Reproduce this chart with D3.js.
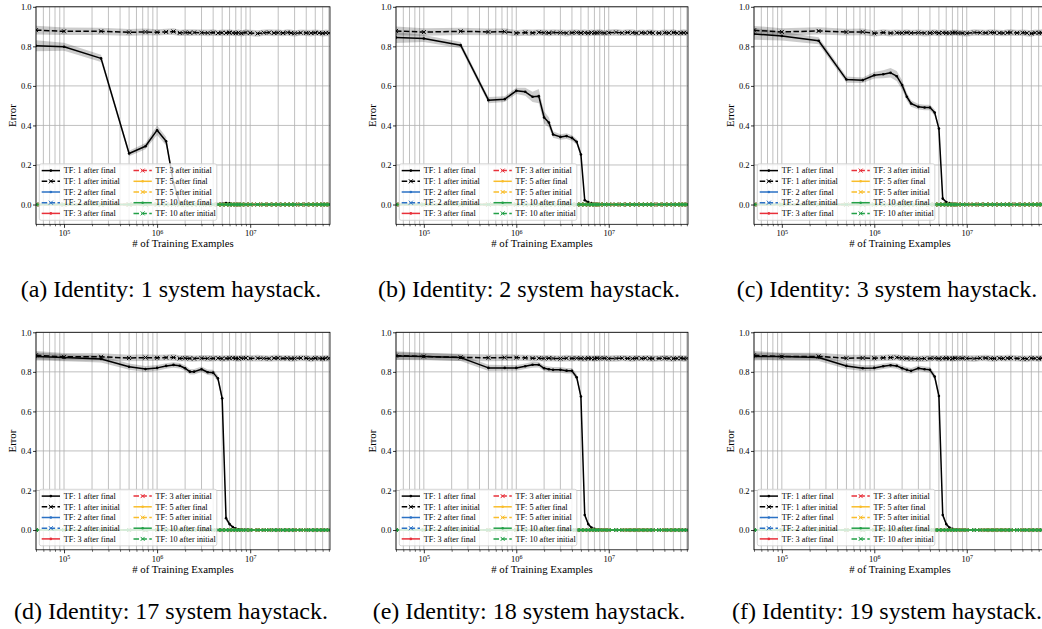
<!DOCTYPE html>
<html>
<head>
<meta charset="utf-8">
<script src="https://cdn.jsdelivr.net/npm/d3@7"></script>
<style>
  body { margin: 0; background: #fff; }
</style>
</head>
<body>
<svg id="fig" width="1042" height="629"></svg>
<script>
// ---- data -------------------------------------------------------------
const trainingExamples = [
  5e4, 1e5, 2.5e5, 5e5, 7.5e5, 1e6, 1.25e6, 1.5e6, 1.75e6, 2e6,
  2.25e6, 2.5e6, 3e6, 3.5e6, 4e6, 4.5e6, 5e6, 5.5e6, 6e6, 6.5e6,
  7e6, 7.5e6, 8e6, 9e6, 1e7, 1.2e7, 1.4e7, 1.6e7, 1.8e7, 2e7,
  2.25e7, 2.5e7, 2.75e7, 3e7, 3.5e7, 4e7, 4.5e7, 5e7, 5.5e7, 6e7,
  6.5e7, 7e7
];

const tfLevels = [1, 2, 3, 5, 10];
const tfColors = ["#000000", "#2a71c5", "#e8303a", "#f9bd2a", "#22a047"];

const yTicks = [0.0, 0.2, 0.4, 0.6, 0.8, 1.0];
const xMajorTicks = [1e5, 1e6, 1e7];

const captions = [
  "(a) Identity: 1 system haystack.",
  "(b) Identity: 2 system haystack.",
  "(c) Identity: 3 system haystack.",
  "(d) Identity: 17 system haystack.",
  "(e) Identity: 18 system haystack.",
  "(f) Identity: 19 system haystack."
];

// TF: 1 error after the final token, per haystack size
const errFinal1 = [
  0.803, 0.798, 0.739, 0.258, 0.295, 0.376, 0.320, 0.110, 0.008, 0.002,
  0.001, 0.001, 0.001, 0.001, 0.001, 0.002, 0.004, 0.008, 0.006, 0.002,
  0.001, 0.001, 0.000, 0.000, 0.000, 0.000, 0.000, 0.000, 0.000, 0.000,
  0.000, 0.000, 0.000, 0.000, 0.000, 0.000, 0.000, 0.000, 0.000, 0.000,
  0.000, 0.000
];
const errFinal2 = [
  0.845, 0.840, 0.806, 0.528, 0.533, 0.575, 0.570, 0.545, 0.548, 0.440,
  0.415, 0.354, 0.342, 0.346, 0.337, 0.317, 0.253, 0.022, 0.012, 0.007,
  0.004, 0.002, 0.001, 0.001, 0.000, 0.000, 0.000, 0.000, 0.000, 0.000,
  0.000, 0.000, 0.000, 0.000, 0.000, 0.000, 0.000, 0.000, 0.000, 0.000,
  0.000, 0.000
];
const errFinal3 = [
  0.863, 0.852, 0.828, 0.632, 0.629, 0.654, 0.659, 0.666, 0.649, 0.604,
  0.545, 0.511, 0.494, 0.491, 0.491, 0.465, 0.384, 0.030, 0.013, 0.007,
  0.004, 0.002, 0.001, 0.001, 0.000, 0.000, 0.000, 0.000, 0.000, 0.000,
  0.000, 0.000, 0.000, 0.000, 0.000, 0.000, 0.000, 0.000, 0.000, 0.000,
  0.000, 0.000
];
const errFinal17 = [
  0.878, 0.872, 0.865, 0.826, 0.814, 0.820, 0.830, 0.835, 0.831, 0.818,
  0.801, 0.801, 0.813, 0.798, 0.796, 0.767, 0.666, 0.060, 0.030, 0.015,
  0.008, 0.004, 0.002, 0.001, 0.000, 0.000, 0.000, 0.000, 0.000, 0.000,
  0.000, 0.000, 0.000, 0.000, 0.000, 0.000, 0.000, 0.000, 0.000, 0.000,
  0.000, 0.000
];
const errFinal18 = [
  0.880, 0.878, 0.872, 0.820, 0.820, 0.820, 0.828, 0.836, 0.836, 0.818,
  0.813, 0.810, 0.810, 0.806, 0.805, 0.773, 0.675, 0.076, 0.030, 0.012,
  0.006, 0.003, 0.002, 0.001, 0.000, 0.000, 0.000, 0.000, 0.000, 0.000,
  0.000, 0.000, 0.000, 0.000, 0.000, 0.000, 0.000, 0.000, 0.000, 0.000,
  0.000, 0.000
];
const errFinal19 = [
  0.878, 0.877, 0.873, 0.830, 0.818, 0.820, 0.828, 0.833, 0.830, 0.818,
  0.810, 0.805, 0.818, 0.813, 0.810, 0.776, 0.678, 0.076, 0.030, 0.012,
  0.006, 0.003, 0.002, 0.001, 0.000, 0.000, 0.000, 0.000, 0.000, 0.000,
  0.000, 0.000, 0.000, 0.000, 0.000, 0.000, 0.000, 0.000, 0.000, 0.000,
  0.000, 0.000
];

// spread (half-width of the shaded band) around the TF: 1 final curves
const spreadFinal1 = [
  0.028, 0.020, 0.018, 0.014, 0.016, 0.024, 0.022, 0.016, 0.007, 0.003,
  0.002, 0.002, 0.002, 0.002, 0.002, 0.003, 0.004, 0.006, 0.004, 0.003,
  0.002, 0.002, 0.002, 0.002, 0.002, 0.002, 0.002, 0.002, 0.002, 0.002,
  0.002, 0.002, 0.002, 0.002, 0.002, 0.002, 0.002, 0.002, 0.002, 0.002,
  0.002, 0.002
];
const spreadFinal2 = [
  0.028, 0.018, 0.016, 0.016, 0.014, 0.016, 0.020, 0.026, 0.036, 0.030,
  0.026, 0.016, 0.014, 0.014, 0.014, 0.014, 0.016, 0.007, 0.004, 0.003,
  0.002, 0.002, 0.002, 0.002, 0.002, 0.002, 0.002, 0.002, 0.002, 0.002,
  0.002, 0.002, 0.002, 0.002, 0.002, 0.002, 0.002, 0.002, 0.002, 0.002,
  0.002, 0.002
];
const spreadFinal3 = [
  0.030, 0.022, 0.018, 0.016, 0.014, 0.016, 0.020, 0.024, 0.026, 0.024,
  0.020, 0.016, 0.014, 0.014, 0.014, 0.016, 0.016, 0.007, 0.004, 0.003,
  0.002, 0.002, 0.002, 0.002, 0.002, 0.002, 0.002, 0.002, 0.002, 0.002,
  0.002, 0.002, 0.002, 0.002, 0.002, 0.002, 0.002, 0.002, 0.002, 0.002,
  0.002, 0.002
];
const spreadFinal17 = [
  0.020, 0.018, 0.018, 0.016, 0.015, 0.014, 0.014, 0.014, 0.014, 0.014,
  0.014, 0.014, 0.014, 0.014, 0.014, 0.016, 0.020, 0.014, 0.007, 0.004,
  0.003, 0.002, 0.002, 0.002, 0.002, 0.002, 0.002, 0.002, 0.002, 0.002,
  0.002, 0.002, 0.002, 0.002, 0.002, 0.002, 0.002, 0.002, 0.002, 0.002,
  0.002, 0.002
];
const spreadFinal18 = [
  0.019, 0.017, 0.017, 0.016, 0.014, 0.014, 0.014, 0.015, 0.014, 0.014,
  0.014, 0.014, 0.014, 0.014, 0.014, 0.016, 0.020, 0.014, 0.007, 0.004,
  0.003, 0.002, 0.002, 0.002, 0.002, 0.002, 0.002, 0.002, 0.002, 0.002,
  0.002, 0.002, 0.002, 0.002, 0.002, 0.002, 0.002, 0.002, 0.002, 0.002,
  0.002, 0.002
];
const spreadFinal19 = [
  0.020, 0.018, 0.018, 0.016, 0.015, 0.014, 0.014, 0.014, 0.014, 0.014,
  0.014, 0.015, 0.014, 0.014, 0.014, 0.016, 0.020, 0.014, 0.007, 0.004,
  0.003, 0.002, 0.002, 0.002, 0.002, 0.002, 0.002, 0.002, 0.002, 0.002,
  0.002, 0.002, 0.002, 0.002, 0.002, 0.002, 0.002, 0.002, 0.002, 0.002,
  0.002, 0.002
];

// TF: 1 error after the initial token
const errInitial1 = [
  0.882, 0.876, 0.876, 0.871, 0.873, 0.871, 0.873, 0.875, 0.868, 0.870,
  0.869, 0.870, 0.869, 0.868, 0.870, 0.867, 0.869, 0.868, 0.870, 0.868,
  0.867, 0.869, 0.866, 0.870, 0.868, 0.865, 0.869, 0.870, 0.868, 0.869,
  0.867, 0.870, 0.868, 0.866, 0.869, 0.868, 0.867, 0.869, 0.868, 0.866,
  0.868, 0.867
];
const errInitial2 = [
  0.878, 0.872, 0.876, 0.873, 0.874, 0.867, 0.870, 0.868, 0.871, 0.869,
  0.868, 0.870, 0.869, 0.867, 0.869, 0.870, 0.868, 0.869, 0.867, 0.870,
  0.868, 0.869, 0.870, 0.867, 0.869, 0.871, 0.868, 0.870, 0.869, 0.867,
  0.869, 0.868, 0.870, 0.868, 0.867, 0.869, 0.868, 0.870, 0.867, 0.868,
  0.869, 0.868
];
const errInitial3 = [
  0.881, 0.873, 0.878, 0.872, 0.873, 0.866, 0.870, 0.867, 0.869, 0.868,
  0.870, 0.868, 0.869, 0.867, 0.868, 0.870, 0.867, 0.869, 0.868, 0.867,
  0.869, 0.870, 0.868, 0.867, 0.866, 0.870, 0.869, 0.868, 0.870, 0.869,
  0.868, 0.867, 0.869, 0.870, 0.868, 0.869, 0.867, 0.865, 0.869, 0.868,
  0.869, 0.868
];
const errInitial17 = [
  0.884, 0.876, 0.876, 0.870, 0.872, 0.871, 0.872, 0.873, 0.868, 0.869,
  0.868, 0.867, 0.869, 0.868, 0.868, 0.869, 0.867, 0.868, 0.869, 0.870,
  0.868, 0.867, 0.869, 0.870, 0.868, 0.869, 0.868, 0.867, 0.869, 0.870,
  0.868, 0.869, 0.867, 0.868, 0.870, 0.869, 0.866, 0.869, 0.868, 0.867,
  0.869, 0.868
];
const errInitial18 = [
  0.882, 0.878, 0.873, 0.871, 0.872, 0.872, 0.871, 0.869, 0.869, 0.868,
  0.869, 0.868, 0.867, 0.869, 0.868, 0.869, 0.868, 0.867, 0.869, 0.868,
  0.867, 0.869, 0.868, 0.869, 0.867, 0.868, 0.869, 0.868, 0.867, 0.869,
  0.868, 0.869, 0.868, 0.867, 0.868, 0.869, 0.868, 0.867, 0.868, 0.869,
  0.867, 0.868
];
const errInitial19 = [
  0.884, 0.877, 0.878, 0.869, 0.870, 0.869, 0.871, 0.872, 0.873, 0.869,
  0.868, 0.867, 0.866, 0.867, 0.868, 0.869, 0.867, 0.868, 0.869, 0.868,
  0.867, 0.869, 0.868, 0.869, 0.868, 0.867, 0.869, 0.870, 0.868, 0.867,
  0.869, 0.868, 0.869, 0.870, 0.868, 0.867, 0.866, 0.869, 0.868, 0.867,
  0.869, 0.868
];
const spreadInitial = [
  0.022, 0.019, 0.018, 0.017, 0.017, 0.016, 0.016, 0.017, 0.016, 0.016,
  0.017, 0.016, 0.016, 0.017, 0.016, 0.016, 0.016, 0.017, 0.016, 0.016,
  0.016, 0.017, 0.016, 0.016, 0.016, 0.017, 0.016, 0.016, 0.017, 0.016,
  0.016, 0.016, 0.017, 0.016, 0.016, 0.016, 0.017, 0.016, 0.016, 0.016,
  0.017, 0.016
];

// TF: 2, 3, 5 and 10 stay at zero error throughout
const errOtherTf = [
  0, 0, 0, 0, 0, 0, 0, 0, 0, 0,
  0, 0, 0, 0, 0, 0, 0, 0, 0, 0,
  0, 0, 0, 0, 0, 0, 0, 0, 0, 0,
  0, 0, 0, 0, 0, 0, 0, 0, 0, 0,
  0, 0
];

const panelData = [
  { final: errFinal1,  finalSpread: spreadFinal1,  initial: errInitial1 },
  { final: errFinal2,  finalSpread: spreadFinal2,  initial: errInitial2 },
  { final: errFinal3,  finalSpread: spreadFinal3,  initial: errInitial3 },
  { final: errFinal17, finalSpread: spreadFinal17, initial: errInitial17 },
  { final: errFinal18, finalSpread: spreadFinal18, initial: errInitial18 },
  { final: errFinal19, finalSpread: spreadFinal19, initial: errInitial19 }
];

// ---- layout -----------------------------------------------------------
const FONT = "'Liberation Serif', 'Times New Roman', Times, serif";
const colLeft = [36, 396, 754];
const colWidth = [294, 292, 292];
const captionCenter = [171, 529, 887];
const rowTop = [6.8, 332.3];
const plotH = 217.5;
const captionBaseline = [296.5, 618.5];
const xDomain = [5e4, 7.2e7];
const yDomain = [-0.1, 1.0];

const svg = d3.select("#fig").attr("font-family", FONT);
svg.append("rect").attr("width", 1042).attr("height", 629).attr("fill", "#fff");

const gridColor = "#b0b0b0";

function xMarkerPath(s) {
  return `M${-s},${-s}L${s},${s}M${-s},${s}L${s},${-s}`;
}

function drawPanel(p, idx) {
  const col = idx % 3, row = Math.floor(idx / 3);
  const w = colWidth[col], h = plotH;
  const g = svg.append("g").attr("transform", `translate(${colLeft[col]},${rowTop[row]})`);

  const x = d3.scaleLog().domain(xDomain).range([0, w]);
  const y = d3.scaleLinear().domain(yDomain).range([h, 0]);

  const clipId = `plot-clip-${idx}`;
  g.append("clipPath").attr("id", clipId)
    .append("rect").attr("width", w).attr("height", h);

  // grid: every log tick (1..9 × 10^k) vertically, 0.2 steps horizontally
  const gridG = g.append("g");
  gridG.selectAll("line.vx").data(x.ticks()).join("line")
    .attr("class", "vx")
    .attr("x1", d => x(d)).attr("x2", d => x(d))
    .attr("y1", 0).attr("y2", h)
    .attr("stroke", gridColor).attr("stroke-width", 0.8);
  gridG.selectAll("line.hy").data(yTicks).join("line")
    .attr("class", "hy")
    .attr("x1", 0).attr("x2", w)
    .attr("y1", d => y(d)).attr("y2", d => y(d))
    .attr("stroke", gridColor).attr("stroke-width", 0.8);

  // series
  const plotG = g.append("g").attr("clip-path", `url(#${clipId})`);
  const series = tfLevels.flatMap((tf, i) => [
    { kind: "final", color: tfColors[i],
      values: tf === 1 ? p.final : errOtherTf,
      spread: tf === 1 ? p.finalSpread : null },
    { kind: "initial", color: tfColors[i],
      values: tf === 1 ? p.initial : errOtherTf,
      spread: tf === 1 ? spreadInitial : null }
  ]);

  const line = d3.line().x(d => x(d[0])).y(d => y(d[1]));
  const area = d3.area().x(d => x(d[0])).y0(d => y(d[1] - d[2])).y1(d => y(d[1] + d[2]));

  series.forEach(s => {
    const pts = trainingExamples.map((t, i) => [t, s.values[i], s.spread ? s.spread[i] : 0]);
    const sg = plotG.append("g");
    sg.append("path").datum(pts)
      .attr("d", line)
      .attr("fill", "none")
      .attr("stroke", s.color)
      .attr("stroke-width", 1.5)
      .attr("stroke-linejoin", "round")
      .attr("stroke-dasharray", s.kind === "initial" ? "5.5,2.4" : null);
    if (s.kind === "final") {
      sg.selectAll("circle").data(pts).join("circle")
        .attr("cx", d => x(d[0])).attr("cy", d => y(d[1]))
        .attr("r", 1.3).attr("fill", s.color);
    } else {
      sg.selectAll("path.mk").data(pts).join("path")
        .attr("class", "mk")
        .attr("transform", d => `translate(${x(d[0])},${y(d[1])})`)
        .attr("d", xMarkerPath(2))
        .attr("stroke", s.color).attr("stroke-width", 1).attr("fill", "none");
    }
    if (s.spread) {
      sg.append("path").datum(pts)
        .attr("d", area)
        .attr("fill", s.color)
        .attr("fill-opacity", 0.2);
    }
  });

  // legend (lower left, two columns)
  const legW = 177.5, legH = 56.5;
  const legG = g.append("g").attr("transform", `translate(3.3,${h - 4 - legH})`);
  legG.append("rect")
    .attr("width", legW).attr("height", legH).attr("rx", 2)
    .attr("fill", "#fff").attr("fill-opacity", 0.8)
    .attr("stroke", "#cccccc").attr("stroke-width", 0.8);
  const entries = tfLevels.flatMap((tf, i) => [
    { label: `TF: ${tf} after final`, kind: "final", color: tfColors[i] },
    { label: `TF: ${tf} after initial`, kind: "initial", color: tfColors[i] }
  ]);
  entries.forEach((e, j) => {
    const c = Math.floor(j / 5), r = j % 5;
    const hx = c === 0 ? 2.4 : 94.2;
    const cy = 6.8 + r * 10.7;
    const eg = legG.append("g").attr("transform", `translate(${hx},${cy})`);
    eg.append("line")
      .attr("x1", 0).attr("x2", 18.3).attr("y1", 0).attr("y2", 0)
      .attr("stroke", e.color).attr("stroke-width", 1.5)
      .attr("stroke-dasharray", e.kind === "initial" ? "5.5,2.4" : null);
    if (e.kind === "final") {
      eg.append("circle").attr("cx", 9.15).attr("cy", 0).attr("r", 1.3).attr("fill", e.color);
    } else {
      eg.append("path").attr("transform", "translate(9.15,0)")
        .attr("d", xMarkerPath(2)).attr("stroke", e.color).attr("stroke-width", 1).attr("fill", "none");
    }
    eg.append("text")
      .attr("x", 22).attr("y", 0).attr("dy", "0.33em")
      .attr("font-family", FONT)
      .attr("font-size", 8.2).attr("fill", "#000")
      .text(e.label);
  });

  // spines
  g.append("rect").attr("width", w).attr("height", h)
    .attr("fill", "none").attr("stroke", "#000").attr("stroke-width", 0.8);

  // y axis
  const yAxisG = g.append("g")
    .call(d3.axisLeft(y).tickValues(yTicks).tickFormat(d3.format(".1f")).tickSize(3).tickPadding(1.5));
  yAxisG.attr("font-family", FONT);
  yAxisG.select(".domain").remove();
  yAxisG.selectAll("text").attr("font-size", 8.5).attr("font-family", FONT).attr("fill", "#000");
  yAxisG.selectAll("line").attr("stroke-width", 0.8);

  // x axis: minor ticks, then major ticks with power-of-ten labels
  const minorTicks = x.ticks().filter(d => !xMajorTicks.includes(d));
  const xMinorG = g.append("g").attr("transform", `translate(0,${h})`)
    .call(d3.axisBottom(x).tickValues(minorTicks).tickFormat(() => "").tickSize(2));
  xMinorG.select(".domain").remove();
  xMinorG.selectAll("line").attr("stroke-width", 0.6);

  const xAxisG = g.append("g").attr("transform", `translate(0,${h})`)
    .call(d3.axisBottom(x).tickValues(xMajorTicks).tickSize(3.5).tickPadding(2.5).tickFormat(() => ""));
  xAxisG.attr("font-family", FONT);
  xAxisG.select(".domain").remove();
  xAxisG.selectAll("line").attr("stroke-width", 0.8);
  xAxisG.selectAll(".tick text")
    .attr("font-size", 8.5).attr("font-family", FONT).attr("fill", "#000")
    .each(function (d) {
      const t = d3.select(this);
      t.append("tspan").text("10");
      t.append("tspan").attr("dy", "-0.45em").attr("font-size", 6).text(Math.round(Math.log10(d)));
    });

  // axis titles
  g.append("text")
    .attr("x", w / 2).attr("y", h + 23)
    .attr("text-anchor", "middle").attr("font-size", 10.8)
    .attr("font-family", FONT)
    .text("# of Training Examples");
  g.append("text")
    .attr("transform", `translate(-24,${h / 2}) rotate(-90)`)
    .attr("dy", "0.35em")
    .attr("text-anchor", "middle").attr("font-size", 10.8)
    .attr("font-family", FONT)
    .text("Error");

  // sub-figure caption
  svg.append("text")
    .attr("x", captionCenter[col]).attr("y", captionBaseline[row])
    .attr("text-anchor", "middle").attr("font-size", 24)
    .attr("font-family", FONT)
    .text(captions[idx]);
}

panelData.forEach(drawPanel);
</script>
</body>
</html>
